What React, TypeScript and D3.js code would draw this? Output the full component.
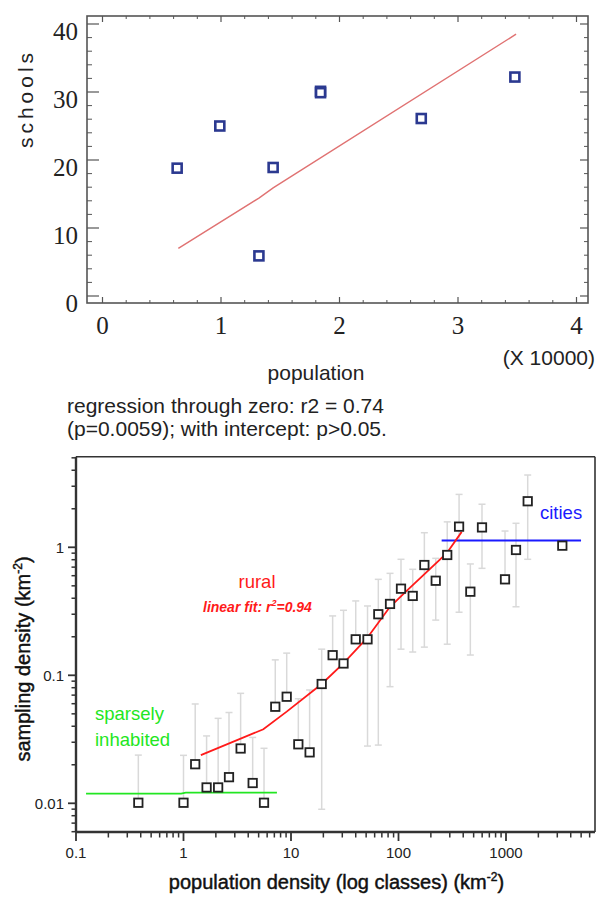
import React from 'react';
import * as d3 from 'd3';

// ---------- top chart data ----------
const schoolPopulation = [0.63, 0.99, 1.32, 1.44, 1.84, 1.84, 2.69, 3.48];
const schoolCount = [18.8, 25.0, 5.9, 18.9, 30.1, 29.9, 26.1, 32.2];
const fitPopulation = [0.64, 1.32, 1.44, 3.49];
const fitSchools = [7.0, 14.4, 15.9, 38.5];
const topXTicks = [0, 1, 2, 3, 4];
const topYTicks = [0, 10, 20, 30, 40];

// ---------- bottom chart data ----------
const densityClass = [0.38, 1.0, 1.285, 1.64, 2.1, 2.65, 3.4, 4.4, 5.61, 7.14, 9.12, 11.7, 14.9, 19.3, 24.4, 30.8,
  40.0, 51.5, 64.9, 83.4, 105.5, 135.6, 174, 222, 284, 366, 466, 598, 979, 1239, 1592, 3340];
const samplingDensity = [0.0101, 0.0101, 0.0202, 0.0133, 0.0133, 0.016, 0.0268, 0.0144, 0.0101, 0.0568, 0.068, 0.0289,
  0.025, 0.0855, 0.1436, 0.1237, 0.191, 0.191, 0.3, 0.361, 0.475, 0.417, 0.727, 0.548, 0.871, 1.45, 0.45, 1.43, 0.562,
  0.953, 2.29, 1.03];
const errUpper = [0.0238, 0.0237, 0.0597, 0.0336, 0.0461, 0.0512, 0.0723, 0.0327, 0.0269, 0.132, 0.149, 0.0656, 0.0768,
  0.16, 0.291, 0.322, 0.381, 0.348, 0.562, 0.626, 0.806, 0.673, 1.3, 0.82, 1.58, 2.59, 0.741, 2.17, 1.34, 1.54, 3.67, null];
const errLower = [null, null, null, null, null, null, null, null, null, null, null, null, null,
  0.00898, null, null, null, 0.028, 0.0285, 0.0815, 0.16, 0.152, 0.166, 0.27, 0.175, 0.311, 0.144, 0.685, null, 0.343, 0.806, null];
const ruralFitX = [1.45, 5.53, 9.12, 19.3, 30.7, 50.9, 83.4, 119, 281, 387];
const ruralFitY = [0.0238, 0.0379, 0.052, 0.0855, 0.124, 0.195, 0.343, 0.456, 0.898, 1.32];
const sparseX = [0.124, 0.95, 1.05, 7.4];
const sparseY = [0.0119, 0.0119, 0.0121, 0.0121];
const citiesX = [252, 4990];
const citiesY = [1.13, 1.13];
const bottomXTicks = [0.1, 1, 10, 100, 1000];
const bottomYTicks = [0.01, 0.1, 1];

const SANS = 'Liberation Sans, Arial, sans-serif';
const SERIF = 'Liberation Serif, Times New Roman, serif';

function TopChart() {
  const L = 87, R = 588, T = 16, B = 303;
  const x = d3.scaleLinear().domain([0, 4]).range([102.5, 576.5]);
  const y = d3.scaleLinear().domain([0, 40]).range([296, 24]);
  const xMinor = d3.range(0, 4.0001, 0.2).filter(v => !topXTicks.some(t => Math.abs(t - v) < 1e-6));
  const yMinor = d3.range(0, 40.0001, 2).filter(v => !topYTicks.some(t => Math.abs(t - v) < 1e-6));
  const line = d3.line<number>().x((_, i) => x(fitPopulation[i])).y((_, i) => y(fitSchools[i]));
  const axisCol = '#555';
  return (
    <g>
      <rect x={L} y={T} width={R - L} height={B - T} fill="none" stroke={axisCol} strokeWidth={1.6} />
      {topXTicks.map(v => (
        <g key={'xt' + v}>
          <line x1={x(v)} x2={x(v)} y1={B} y2={B - 6} stroke={axisCol} strokeWidth={1.2} />
          <line x1={x(v)} x2={x(v)} y1={T} y2={T + 6} stroke={axisCol} strokeWidth={1.2} />
          <text x={x(v)} y={334} textAnchor="middle" fontFamily={SERIF} fontSize={25} fill="#222">{v}</text>
        </g>
      ))}
      {xMinor.map(v => (
        <g key={'xm' + v}>
          <line x1={x(v)} x2={x(v)} y1={B} y2={B - 3} stroke={axisCol} strokeWidth={1} />
          <line x1={x(v)} x2={x(v)} y1={T} y2={T + 3} stroke={axisCol} strokeWidth={1} />
        </g>
      ))}
      {topYTicks.map(v => (
        <g key={'yt' + v}>
          <line x1={L} x2={L + 12} y1={y(v)} y2={y(v)} stroke={axisCol} strokeWidth={1.2} />
          <line x1={R} x2={R - 8} y1={y(v)} y2={y(v)} stroke={axisCol} strokeWidth={1.2} />
          <text x={78} y={y(v) + 16} textAnchor="end" fontFamily={SERIF} fontSize={25} fill="#222">{v}</text>
        </g>
      ))}
      {yMinor.map(v => (
        <g key={'ym' + v}>
          <line x1={L} x2={L + 5} y1={y(v)} y2={y(v)} stroke={axisCol} strokeWidth={1} />
          <line x1={R} x2={R - 4} y1={y(v)} y2={y(v)} stroke={axisCol} strokeWidth={1} />
        </g>
      ))}
      <path d={line(fitPopulation) || ''} fill="none" stroke="#e07272" strokeWidth={1.4} />
      {schoolPopulation.map((p, i) => (
        <rect key={'pt' + i} x={x(p) - 4.5} y={y(schoolCount[i]) - 4.5} width={9} height={9}
          fill="#fff" stroke="#2b3990" strokeWidth={2.6} />
      ))}
      <text transform="translate(33,98.5) rotate(-90)" textAnchor="middle" fontFamily={SANS} fontSize={21}
        letterSpacing={4} fill="#222">schools</text>
      <text x={316} y={380} textAnchor="middle" fontFamily={SANS} fontSize={21} fill="#222">population</text>
      <text x={595} y={365} textAnchor="end" fontFamily={SANS} fontSize={21} fill="#222">(X 10000)</text>
      <text x={67} y={412.5} fontFamily={SANS} fontSize={21} fill="#222">regression through zero: r2 = 0.74</text>
      <text x={67} y={436} fontFamily={SANS} fontSize={21} fill="#222">(p=0.0059); with intercept: p&gt;0.05.</text>
    </g>
  );
}

function BottomChart() {
  const L = 76, R = 595, T = 456.7, B = 832;
  const x = d3.scaleLog().domain([0.1, 1000]).range([76, 506]);
  const y = d3.scaleLog().domain([0.01, 1]).range([803.3, 547.3]);
  const xMinor: number[] = [];
  [0.1, 1, 10, 100, 1000].forEach(d => { for (let k = 2; k <= 9; k++) { const v = d * k; if (x(v) <= R) xMinor.push(v); } });
  const yMinor: number[] = [];
  [0.001, 0.01, 0.1, 1].forEach(d => { for (let k = 2; k <= 9; k++) { const v = d * k; if (y(v) >= T && y(v) <= B) yMinor.push(v); } });
  const mk = (xs: number[], ys: number[]) =>
    d3.line<number>().x((_, i) => x(xs[i])).y((_, i) => y(ys[i]))(xs) || '';
  const ax = '#333';
  const errCol = '#d9d9d9';
  const cap = 3.5;
  const fmt = (v: number) => String(v);
  return (
    <g>
      <line x1={L} x2={R} y1={T} y2={T} stroke={ax} strokeWidth={1.6} />
      <line x1={R} x2={R} y1={T} y2={B} stroke={ax} strokeWidth={1.6} />
      {densityClass.map((d, i) => {
        const cx = x(d);
        const cy = y(samplingDensity[i]);
        const up = errUpper[i];
        const lo = errLower[i];
        return (
          <g key={'e' + i}>
            {up != null && (
              <g>
                <line x1={cx} x2={cx} y1={cy} y2={y(up)} stroke={errCol} strokeWidth={1.5} />
                <line x1={cx - cap} x2={cx + cap} y1={y(up)} y2={y(up)} stroke={errCol} strokeWidth={1.5} />
              </g>
            )}
            {lo != null && (
              <g>
                <line x1={cx} x2={cx} y1={cy} y2={y(lo)} stroke={errCol} strokeWidth={1.5} />
                <line x1={cx - cap} x2={cx + cap} y1={y(lo)} y2={y(lo)} stroke={errCol} strokeWidth={1.5} />
              </g>
            )}
          </g>
        );
      })}
      <path d={mk(sparseX, sparseY)} fill="none" stroke="#22e622" strokeWidth={1.8} />
      <path d={mk(citiesX, citiesY)} fill="none" stroke="#1a1aff" strokeWidth={1.8} />
      <path d={mk(ruralFitX, ruralFitY)} fill="none" stroke="#ff1a1a" strokeWidth={1.8} />
      {densityClass.map((d, i) => (
        <rect key={'p' + i} x={x(d) - 4.2} y={y(samplingDensity[i]) - 4.2} width={8.4} height={8.4}
          fill="#fff" stroke="#222" strokeWidth={1.8} />
      ))}
      <line x1={L} x2={L} y1={T} y2={B} stroke={ax} strokeWidth={2.4} />
      <line x1={L} x2={R} y1={B} y2={B} stroke={ax} strokeWidth={2.4} />
      {bottomXTicks.map(v => (
        <g key={'bx' + v}>
          <line x1={x(v)} x2={x(v)} y1={B} y2={B + 9} stroke={ax} strokeWidth={1.8} />
          <text x={x(v)} y={858} textAnchor="middle" fontFamily={SANS} fontSize={15} fill="#222">{fmt(v)}</text>
        </g>
      ))}
      {xMinor.map(v => (
        <line key={'bxm' + v} x1={x(v)} x2={x(v)} y1={B} y2={B + 5.5} stroke={ax} strokeWidth={1.5} />
      ))}
      {bottomYTicks.map(v => (
        <g key={'by' + v}>
          <line x1={L} x2={L - 8} y1={y(v)} y2={y(v)} stroke={ax} strokeWidth={1.8} />
          <text x={64} y={y(v) + 5.5} textAnchor="end" fontFamily={SANS} fontSize={15} fill="#222">{fmt(v)}</text>
        </g>
      ))}
      {yMinor.map(v => (
        <line key={'bym' + v} x1={L} x2={L - 4.5} y1={y(v)} y2={y(v)} stroke={ax} strokeWidth={1.5} />
      ))}
      <text x={257} y={588} textAnchor="middle" fontFamily={SANS} fontSize={18.5} fill="#ff1a1a">rural</text>
      <text x={203} y={612} fontFamily={SANS} fontSize={14} fontWeight="bold" fontStyle="italic" fill="#ff1a1a">
        linear fit: r<tspan dy={-6} fontSize={9}>2</tspan><tspan dy={6}>=0.94</tspan>
      </text>
      <text x={540} y={519} fontFamily={SANS} fontSize={18.5} fill="#1a1aff">cities</text>
      <text x={95} y={720} fontFamily={SANS} fontSize={18.5} fill="#22e622">sparsely</text>
      <text x={95} y={746} fontFamily={SANS} fontSize={18.5} fill="#22e622">inhabited</text>
      <text transform="translate(30,659) rotate(-90)" textAnchor="middle" fontFamily={SANS} fontSize={20} fill="#111"
        stroke="#111" strokeWidth={0.45}>
        sampling density (km<tspan dy={-8} fontSize={12}>-2</tspan><tspan dy={8}>)</tspan>
      </text>
      <text x={336.5} y={889} textAnchor="middle" fontFamily={SANS} fontSize={20} fill="#111"
        stroke="#111" strokeWidth={0.45}>
        population density (log classes) (km<tspan dy={-8} fontSize={12}>-2</tspan><tspan dy={8}>)</tspan>
      </text>
    </g>
  );
}

export default function App() {
  return (
    <svg width={598} height={897} viewBox="0 0 598 897"
      style={{ position: 'absolute', left: 0, top: 0, background: '#fff' }}>
      <rect x={0} y={0} width={598} height={897} fill="#fff" />
      <TopChart />
      <BottomChart />
    </svg>
  );
}
